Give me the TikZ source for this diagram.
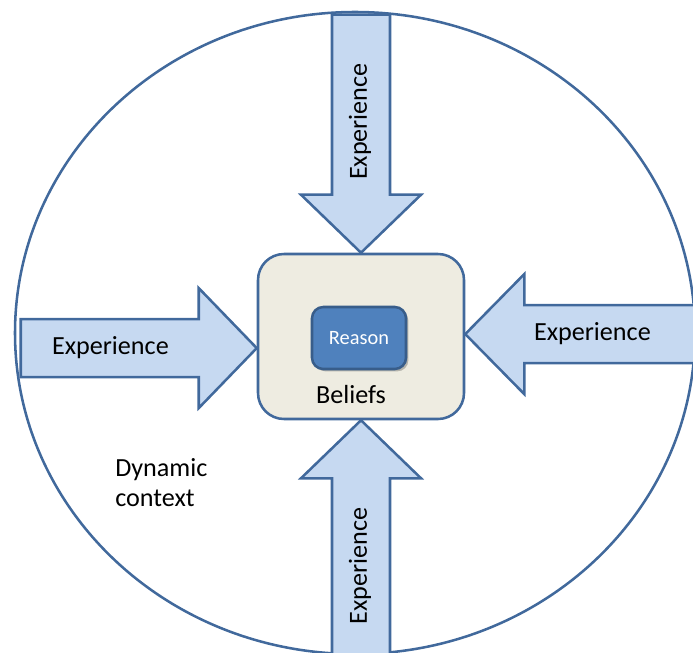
\documentclass[tikz,border=0pt]{standalone}
\usepackage{fontspec}
\setmainfont{Carlito}
\usetikzlibrary{shadows}
\definecolor{edge}{HTML}{41699C}
\definecolor{xpfill}{HTML}{C6D9F1}
\definecolor{beliefbg}{HTML}{EEECE1}
\definecolor{reasonbg}{HTML}{4F81BD}
\definecolor{reasonedge}{HTML}{385D8A}
\tikzset{
  exparrow/.style={draw=edge, fill=xpfill, line width=1.8pt, line join=miter},
  lbl/.style={font=\fontsize{18.6}{21.4}\selectfont, inner sep=0pt},
}

\begin{document}
\begin{tikzpicture}
\useasboundingbox (0,0) rectangle (17.325,16.3);
\clip (0,0) rectangle (17.325,16.3);
% dynamic context
\draw[edge, line width=1.8pt] (8.875,7.975) ellipse (8.5 and 8.025);
% beliefs box
\node (beliefs) [draw=edge, fill=beliefbg, line width=1.8pt, rounded corners=0.65cm,
  minimum width=5.15cm, minimum height=4.125cm] at (9.025,7.8875) {};
% the four experience arrows
\draw[exparrow] (beliefs.north) -- ++(-1.5,1.45) -- ++(0.775,0) -- ++(0,4.5)
  -- ++(1.45,0) -- ++(0,-4.5) -- ++(0.775,0) -- cycle;
\draw[exparrow] ([yshift=-0.29cm]beliefs.west) -- ++(-1.45,1.5) -- ++(0,-0.775)
  -- ++(-4.45,0) -- ++(0,-1.45) -- ++(4.45,0) -- ++(0,-0.775) -- cycle;
\draw[exparrow] ([yshift=0.06cm]beliefs.east) -- ++(1.475,1.5) -- ++(0,-0.775)
  -- ++(6,0) -- ++(0,-1.45) -- ++(-6,0) -- ++(0,-0.775) -- cycle;
\draw[exparrow] (beliefs.south) -- ++(1.5,-1.45) -- ++(-0.775,0) -- ++(0,-6)
  -- ++(-1.45,0) -- ++(0,6) -- ++(-0.775,0) -- cycle;
% reason
\node (reason) [draw=reasonedge, fill=reasonbg, line width=1.8pt, rounded corners=0.28cm,
  minimum width=2.35cm, minimum height=1.55cm, text=white,
  font=\fontsize{14.5}{17}\selectfont,
  drop shadow={shadow xshift=0.06cm, shadow yshift=-0.06cm, opacity=0.35, fill=black!70}]
  at (8.975,7.85) {Reason};
% labels
\node (beliefslbl) [lbl] at (8.775,6.43) {Beliefs};
\node (xptop) [lbl, rotate=90] at (9.0,13.26) {Experience};
\node (xpbottom) [lbl, rotate=90] at (9.0,2.15) {Experience};
\node (xpleft) [lbl] at (2.76,7.6) {Experience};
\node (xpright) [lbl] at (14.81,7.95) {Experience};
\node (context) [lbl, anchor=west, align=left] at (2.875,4.225) {Dynamic\\context};
\end{tikzpicture}
\end{document}
